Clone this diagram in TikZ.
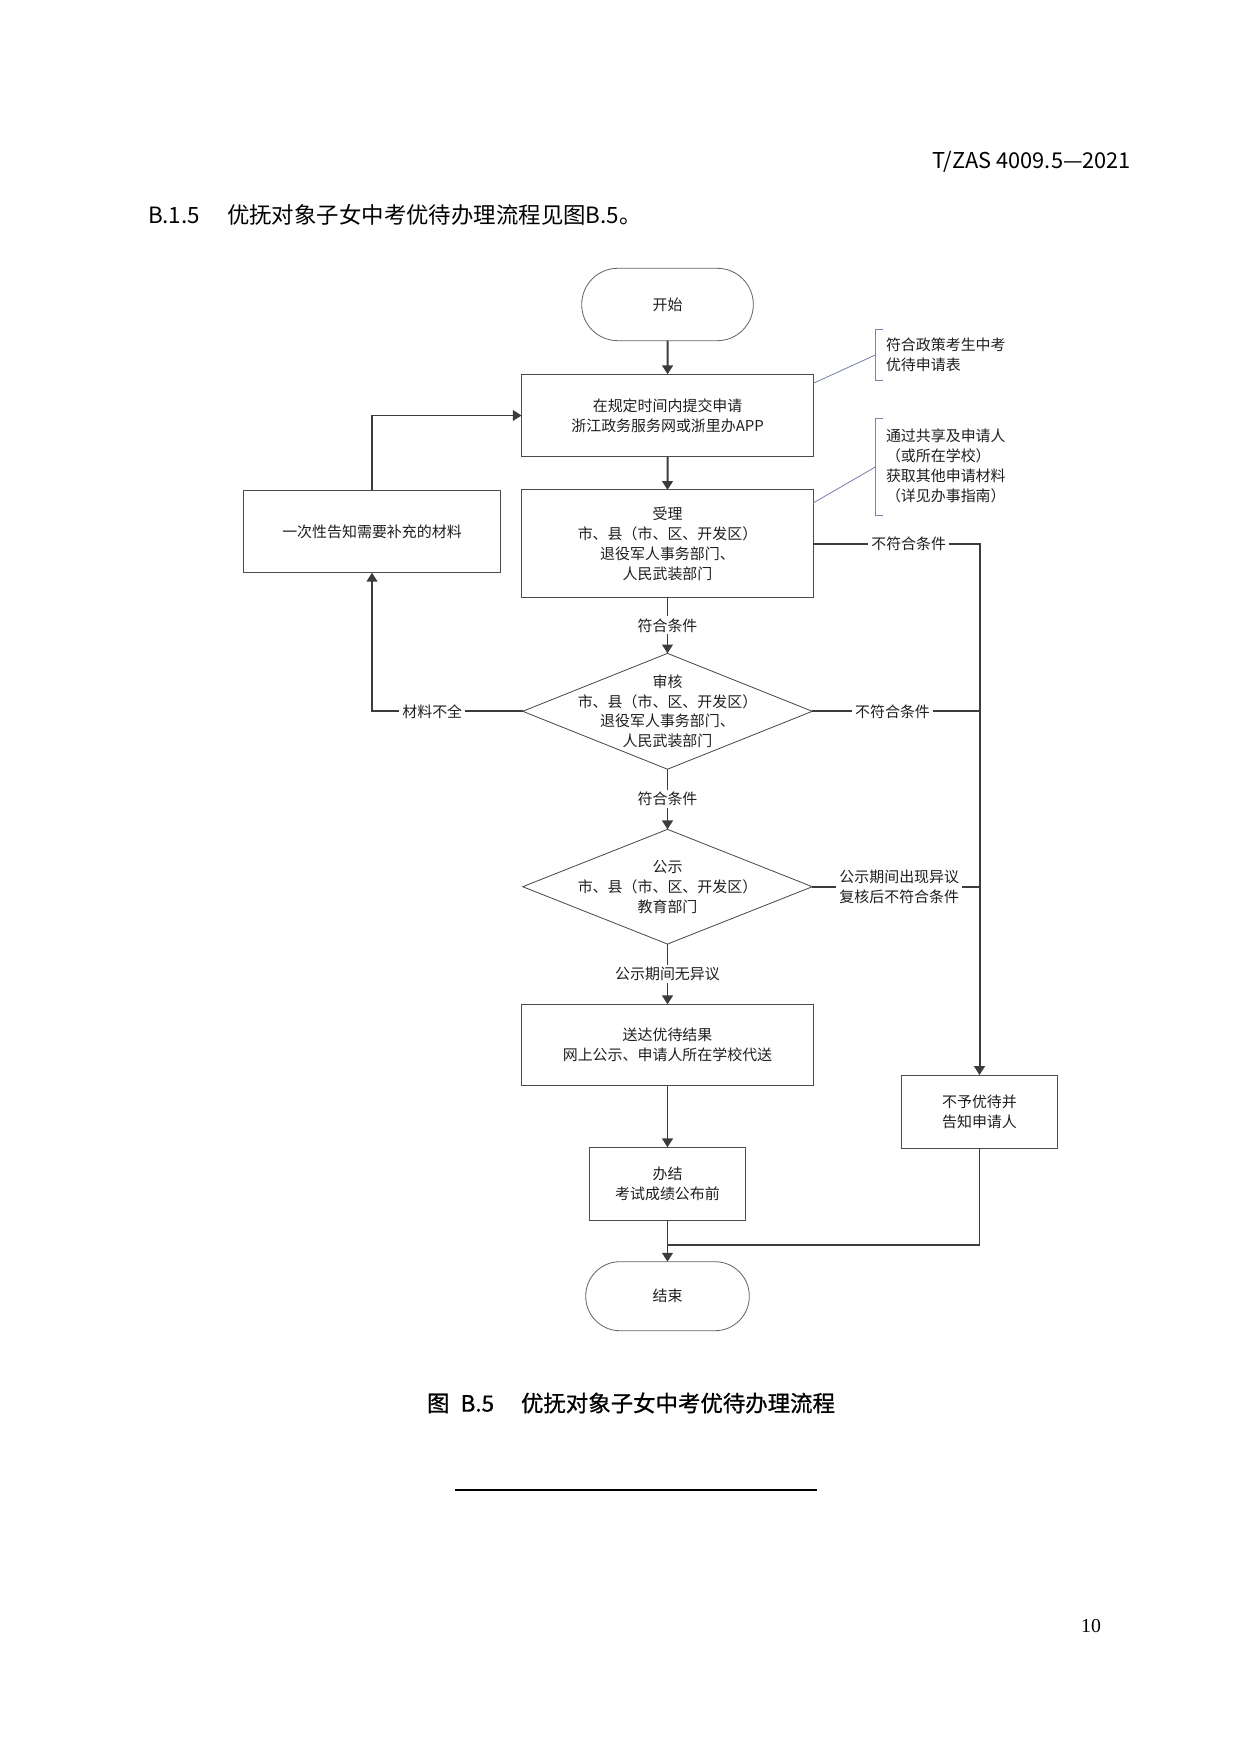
\documentclass[tikz,border=0pt]{standalone}
\usepackage{fontspec}
\setmainfont{Noto Sans CJK SC}
\newfontfamily\pnfont{Liberation Serif}
\newfontfamily\capfont[FakeBold=0.8]{Noto Sans CJK SC}
\usetikzlibrary{arrows.meta,shapes.geometric,calc}
\definecolor{lnc}{RGB}{60,60,60}
\definecolor{bdc}{RGB}{75,75,75}
\definecolor{notec}{RGB}{120,130,175}
\begin{document}
\begin{tikzpicture}[x=0.169218mm,y=-0.169218mm,
  every node/.style={inner sep=0pt, outer sep=0pt},
  dtext/.style={font=\fontsize{7.2}{9.6}\selectfont, align=center, text=black!88},
  proc/.style={rectangle, draw=bdc, line width=0.5pt, dtext},
  term/.style={rectangle, draw=bdc!85, line width=0.4pt, dtext},
  dec/.style={diamond, draw=bdc, line width=0.4pt, minimum width=49mm, minimum height=19.6mm},
  flow/.style={draw=lnc, line width=0.95pt, -{Triangle[length=1.5mm,width=1.8mm]}},
  link/.style={draw=lnc, line width=0.95pt},
  thin/.style={draw=lnc, line width=0.5pt},
  lab/.style={dtext, fill=white, inner xsep=1.5pt, inner ysep=1pt},
  note/.style={draw=notec, line width=0.4pt},
  notetext/.style={font=\fontsize{7.2}{9.6}\selectfont, align=left, text=black!88},
]
\useasboundingbox (0,0) rectangle (1241,1754);
\fill[white] (0,0) rectangle (1241,1754);

% page texts
\node[anchor=east, font=\fontsize{10.5}{12}\selectfont] (hdr) at (1131,162) {T/ZAS 4009.5—2021};
\node[anchor=west, font=\fontsize{10.8}{13}\selectfont] (sec) at (148,215) {B.1.5\hspace{1.2em}优抚对象子女中考优待办理流程见图B.5。};
\node[font=\capfont\fontsize{10.8}{13}\selectfont] (cap) at (631,1403) {图\hspace{0.5em}B.5\hspace{1.2em}优抚对象子女中考优待办理流程};
\node[font=\pnfont\fontsize{9.5}{11}\selectfont] (pn) at (1091,1626) {10};
\coordinate (fl1) at (455,1490);
\coordinate (fl2) at (817,1490);
\draw[line width=0.5pt] (fl1) -- (fl2);

% nodes
\node[term, rounded corners=6.1mm, minimum width=29.04mm, minimum height=12.25mm] (start) at (667.5,304.5) {开始};
\node[proc, minimum width=49.4mm, minimum height=13.94mm] (b1) at (667.6,415.5) {在规定时间内提交申请\\浙江政务服务网或浙里办APP};
\node[proc, minimum width=49.34mm, minimum height=18.16mm] (b2) at (667.5,543.6) {受理\\市、县（市、区、开发区）\\退役军人事务部门、\\人民武装部门};
\node[proc, minimum width=43.56mm, minimum height=13.88mm] (b3) at (372,531.7) {一次性告知需要补充的材料};
\node[dec] (d1) at (667.5,711.3) {};
\node[dtext] (d1t) at (d1.center) {审核\\市、县（市、区、开发区）\\退役军人事务部门、\\人民武装部门};
\node[dec, minimum height=19.41mm] (d2) at (667.5,886.7) {};
\node[dtext] (d2t) at (d2.center) {公示\\市、县（市、区、开发区）\\教育部门};
\node[proc, minimum width=49.34mm, minimum height=13.77mm] (b4) at (667.5,1045) {送达优待结果\\网上公示、申请人所在学校代送};
\node[proc, minimum width=26.47mm, minimum height=12.35mm] (b5) at (667.5,1183.8) {办结\\考试成绩公布前};
\node[proc, minimum width=26.33mm, minimum height=12.4mm] (rej) at (979.5,1111.7) {不予优待并\\告知申请人};
\node[term, rounded corners=5.8mm, minimum width=27.68mm, minimum height=11.68mm] (end) at (667.5,1296.2) {结束};

% annotations
\node[notetext, anchor=west] (n1) at (886,354.5) {符合政策考生中考\\优待申请表};
\node[notetext, anchor=west] (n2) at (886,466) {通过共享及申请人\\（或所在学校）\\获取其他申请材料\\（详见办事指南）};
\coordinate (n1m) at (875.3,355);
\coordinate (n2m) at (875.3,467);
\draw[note] (882.7,329.3) -- (875.3,329.3) -- (875.3,380) -- (882.7,380);
\draw[note] (882.7,418.7) -- (875.3,418.7) -- (875.3,515) -- (882.7,515);
\draw[note] ([yshift=-1.5mm]b1.north east) -- (n1m);
\draw[note] ([yshift=-2.2mm]b2.north east) -- (n2m);

% connectors
\draw[flow] (start.south) -- (b1.north);
\draw[flow] (b1.south) -- (b2.north);
\draw[flow] (b2.south) -- node[lab] {符合条件} (d1.north);
\draw[flow] (d1.south) -- node[lab] {符合条件} (d2.north);
\draw[flow] (d2.south) -- node[lab] {公示期间无异议} (b4.north);
\draw[flow] (b4.south) -- (b5.north);
\draw[flow] (b5.south) -- (end.north);
\draw[flow] (d1.west) -| node[lab, pos=0.3] {材料不全} (b3.south);
\draw[flow] (b3.north) |- (b1.west);
\draw[flow] (b2.east) -| node[lab, pos=0.287] {不符合条件} (rej.north);
\draw[link] (d1.east) -- node[lab, pos=0.48] {不符合条件} (d1.east -| rej.north);
\draw[link] (d2.east) -- node[lab, pos=0.52] {公示期间出现异议\\复核后不符合条件} (d2.east -| rej.north);
\coordinate (mg) at (667.5,1245);
\draw[thin] (rej.south) |- (mg);
\end{tikzpicture}
\end{document}
